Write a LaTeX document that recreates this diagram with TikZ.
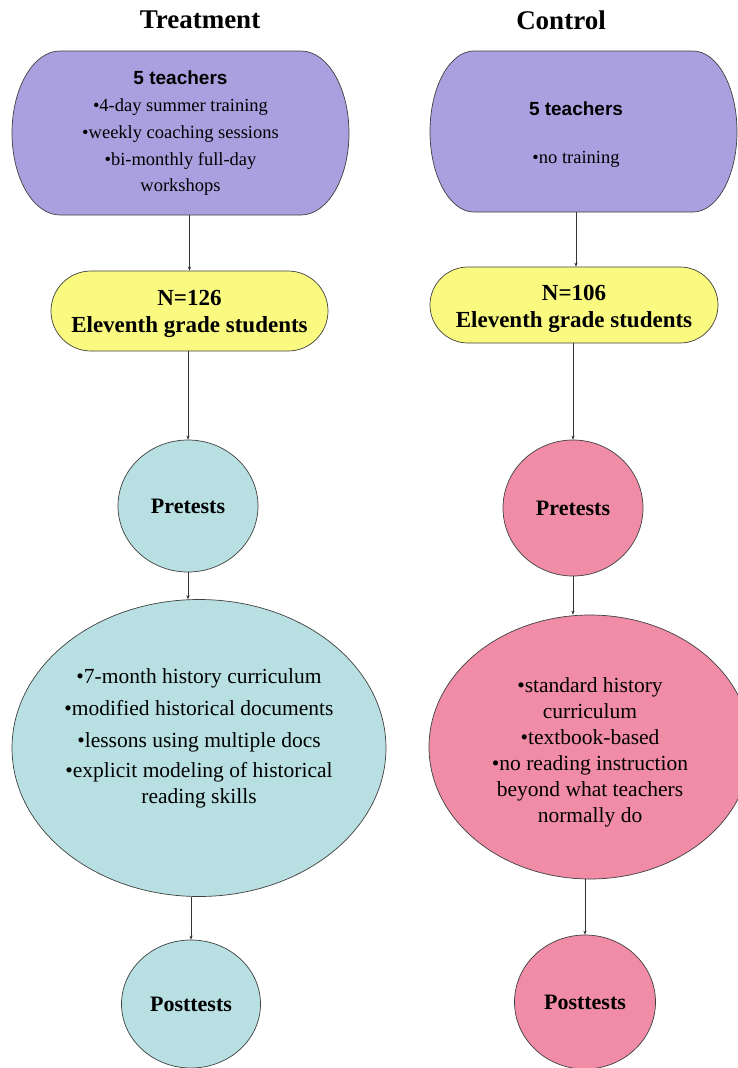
\documentclass[tikz,border=0pt]{standalone}
\usepackage{fontspec}
\setmainfont{Liberation Serif}
\newfontfamily\sansbf{Liberation Sans}[BoldFont={* Bold}]
\usetikzlibrary{shapes.geometric,shapes.misc,arrows.meta}
\definecolor{purp}{HTML}{AAA0E0}
\definecolor{yel}{HTML}{FAFA80}
\definecolor{tealc}{HTML}{B8E0E3}
\definecolor{pinkc}{HTML}{F08CA6}
\definecolor{edge}{HTML}{404040}
\begin{document}
\begin{tikzpicture}[x=1pt,y=-1pt,
  shapeline/.style={draw=edge, line width=0.7pt},
  arr/.style={draw=black!80, line width=0.6pt, -{Stealth[length=4pt,width=3.2pt]}},
  title/.style={font=\fontsize{27}{30}\selectfont\bfseries},
  textonly/.style={draw=none, inner sep=0pt, align=center},
  yelbox/.style={rounded rectangle, shapeline, fill=yel, inner sep=0pt},
  yeltext/.style={textonly, font=\fontsize{23}{27}\selectfont\bfseries},
  oval/.style={ellipse, shapeline, inner sep=0pt, align=center},
  testfont/.style={font=\fontsize{22}{26}\selectfont\bfseries}
]
\useasboundingbox (0,0) rectangle (738,1068);
\fill[white] (0,0) rectangle (738,1068);

% titles
\node[title] (ttitle) at (200,20) {Treatment};
\node[title] (ctitle) at (561,20) {Control};

% purple teacher boxes (shapes)
\draw[shapeline, fill=purp] (60,51) -- (301,51)
  .. controls (327.5,51) and (349,87.7) .. (349,133)
  .. controls (349,178.3) and (327.5,215) .. (301,215)
  -- (60,215)
  .. controls (33.5,215) and (12,178.3) .. (12,133)
  .. controls (12,87.7) and (33.5,51) .. (60,51) -- cycle;
\draw[shapeline, fill=purp] (474,51) -- (693,51)
  .. controls (717.3,51) and (737,87) .. (737,131.5)
  .. controls (737,176) and (717.3,212) .. (693,212)
  -- (474,212)
  .. controls (449.7,212) and (430,176) .. (430,131.5)
  .. controls (430,87) and (449.7,51) .. (474,51) -- cycle;

\node[textonly, minimum width=337pt, minimum height=164pt,
      font=\fontsize{18.5}{27}\selectfont] (ttop) at (180.5,133)
  {{\sansbf\bfseries\fontsize{19}{27}\selectfont 5 teachers}\\
   \textbullet4-day summer training\\
   \textbullet weekly coaching sessions\\
   \textbullet bi-monthly full-day\\[-1pt]
   workshops};
\node[textonly, minimum width=292pt, minimum height=155pt,
      font=\fontsize{18.5}{27}\selectfont] (ctop) at (576,134.5)
  {{\sansbf\bfseries\fontsize{19}{27}\selectfont 5 teachers}\\[21pt]
   \textbullet no training};

% yellow student boxes
\node[yelbox, minimum width=277pt, minimum height=80pt,
  label={[yeltext, yshift=-3pt]center:{N=126\\Eleventh grade students}}] (tyel) at (189.5,311) {};
\node[yelbox, minimum width=288pt, minimum height=76pt,
  label={[yeltext, yshift=-4pt]center:{N=106\\Eleventh grade students}}] (cyel) at (574,305) {};

% pretests
\node[oval, fill=tealc, minimum width=140pt, minimum height=132pt, testfont] (tpre) at (188,506) {Pretests};
\node[oval, fill=pinkc, minimum width=140pt, minimum height=136pt, testfont] (cpre) at (573,508) {Pretests};

% interventions
\node[oval, fill=tealc, minimum width=374pt, minimum height=297pt,
  label={[textonly, yshift=10pt, font=\fontsize{21.5}{26}\selectfont]center:{%
   \textbullet7-month history curriculum\\[6pt]
   \textbullet modified historical documents\\[6pt]
   \textbullet lessons using multiple docs\\[4pt]
   \textbullet explicit modeling of historical\\
   reading skills}}] (tbig) at (199,748) {};
\node[oval, fill=pinkc, minimum width=322pt, minimum height=264pt,
  label={[textonly, yshift=-5pt, font=\fontsize{21.5}{26}\selectfont]center:{%
   \textbullet standard history\\
   curriculum\\
   \textbullet textbook-based\\
   \textbullet no reading instruction\\
   beyond what teachers\\
   normally do}}] (cbig) at (590,747) {};

% posttests
\node[oval, fill=tealc, minimum width=139pt, minimum height=128pt, testfont] (tpost) at (191,1004) {Posttests};
\node[oval, fill=pinkc, minimum width=141pt, minimum height=134pt, testfont] (cpost) at (585,1002) {Posttests};

% connectors
\draw[arr] (ttop.south -| tyel.north) -- (tyel.north);
\draw[arr] (tyel.south -| tpre.north) -- (tpre.north);
\draw[arr] (tpre.south) -- (tpre.south |- tbig.north);
\draw[arr] (tbig.south -| tpost.north) -- (tpost.north);

\draw[arr] (ctop.south) -- (ctop.south |- cyel.north);
\draw[arr] (cyel.south -| cpre.north) -- (cpre.north);
\draw[arr] (cpre.south) -- (cpre.south |- cbig.north);
\draw[arr] (cbig.south -| cpost.north) -- (cpost.north);
\end{tikzpicture}
\end{document}
